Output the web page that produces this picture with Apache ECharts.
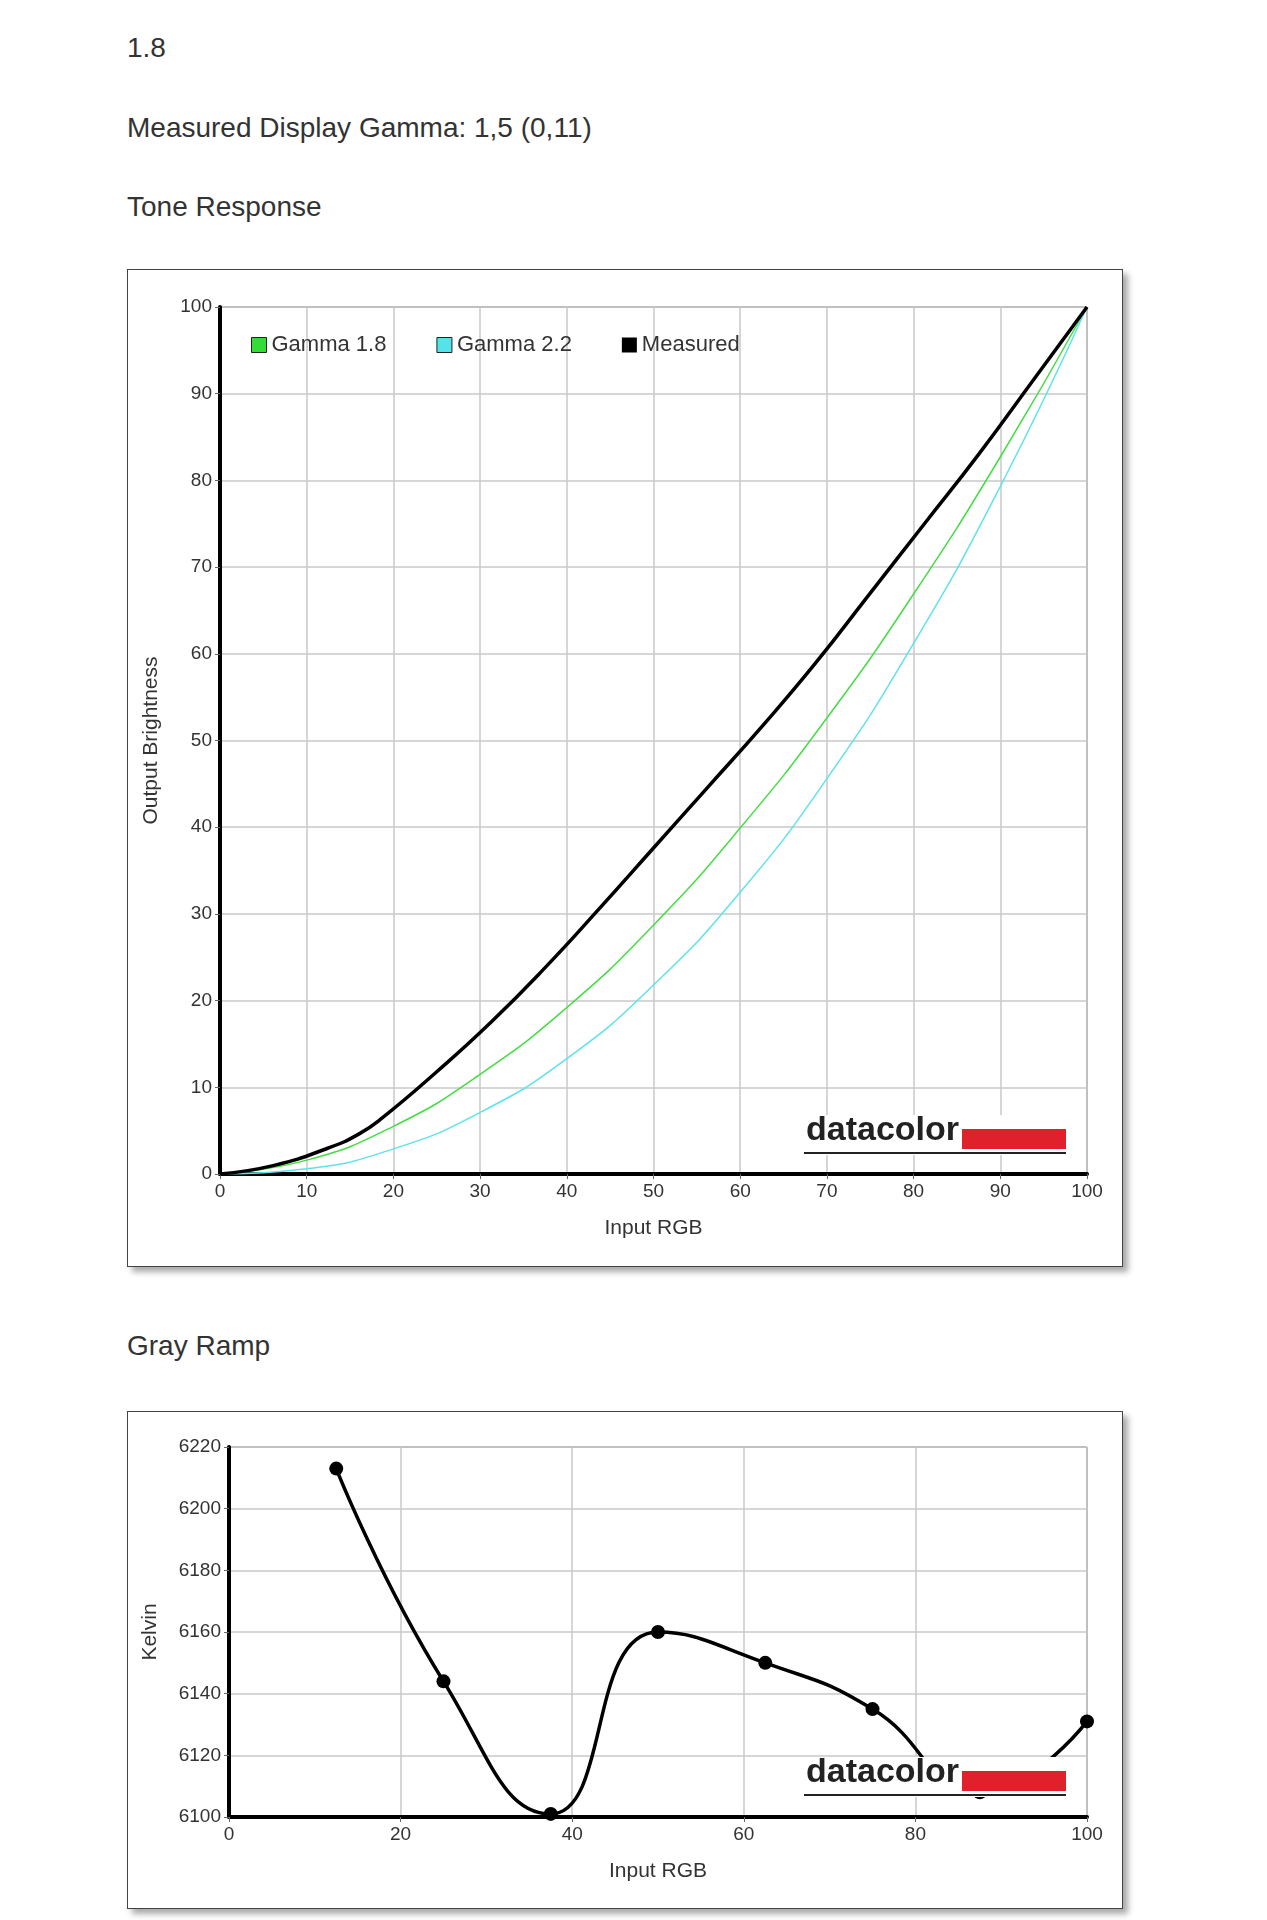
<!DOCTYPE html>
<html>
<head>
<meta charset="utf-8">
<script src="https://cdn.jsdelivr.net/npm/echarts@6/dist/echarts.min.js"></script>
<style>
	body { margin: 0; background: #fff; font-family: "Liberation Sans", Arial, sans-serif; color: #333; }
	.txt { position: absolute; left: 127px; font-size: 28px; }
	.box { position: absolute; left: 127px; width: 994px; border: 1px solid #444; box-shadow: 5px 5px 6px #aaa; background: #fff; }
</style>
</head>
<body>
<div class="txt" style="top:32px">1.8</div>
<div class="txt" style="top:112px">Measured Display Gamma: 1,5 (0,11)</div>
<div class="txt" style="top:191px">Tone Response</div>
<div class="box" id="tone" style="top:269px;height:996px"></div>
<div class="txt" style="top:1330px">Gray Ramp</div>
<div class="box" id="ramp" style="top:1411px;height:496px"></div>
<script>
// tone response, input RGB 0..100
var toneX = [0, 10, 20, 30, 40, 50, 60, 70, 80, 90, 100];
var gamma18 = [0, 1.6, 5.5, 11.5, 19.2, 28.7, 39.9, 52.6, 66.9, 82.7, 100];
var gamma22 = [0, 0.6, 2.9, 7.1, 13.3, 21.8, 32.5, 45.6, 61.2, 79.3, 100];
var measuredX = [0, 6.25, 12.5, 16, 18.75, 25, 31.25, 37.5, 43.75, 50, 56.25, 62.5, 68.75, 75, 81.25, 87.5, 93.75, 100];
var measuredY = [0, 1, 3, 4.6, 6.5, 11.8, 17.5, 23.8, 30.6, 37.6, 44.6, 51.6, 59, 67, 75, 83, 91.5, 100];

// gray ramp
var rampX = [12.5, 25, 37.5, 50, 62.5, 75, 87.5, 100];
var rampK = [6213, 6144, 6101, 6160, 6150, 6135, 6108, 6131];

function pairs(xs, ys) {
	var out = [];
	for (var i = 0; i < xs.length; i++) out.push([xs[i], ys[i]]);
	return out;
}

var txtStyle = { color: '#333', fontSize: 19, fontFamily: 'Liberation Sans', formatter: function(v) { return String(v); } };

function logo() {
	return [
		{ type: 'rect', right: 36, bottom: 111, shape: { width: 284, height: 40 }, style: { fill: '#fff' }, z: 99 },
		{ type: 'text', right: 163, bottom: 118, style: { text: 'datacolor', font: 'bold 34px "Liberation Sans"', fill: '#222' }, z: 100 },
		{ type: 'rect', right: 56, bottom: 117, shape: { width: 104, height: 20 }, style: { fill: '#e0202a' }, z: 100 },
		{ type: 'rect', right: 56, bottom: 112, shape: { width: 262, height: 2 }, style: { fill: '#222' }, z: 100 }
	];
}

function axisBase(name, gap, min, max, interval) {
	return {
		type: 'value', min: min, max: max, interval: interval,
		name: name, nameLocation: 'middle', nameGap: gap,
		nameTextStyle: { color: '#333', fontSize: 21, fontFamily: 'Liberation Sans' },
		axisLine: { show: true, onZero: false, lineStyle: { color: '#000', width: 4 } },
		axisTick: { show: true, length: 5, lineStyle: { color: '#666' } },
		axisLabel: txtStyle,
		splitLine: { show: true, lineStyle: { color: '#c8c8c8', width: 1.5 } }
	};
}

var tone = echarts.init(document.getElementById('tone'));
tone.setOption({
	animation: false,
	grid: { left: 92, right: 35, top: 37, bottom: 92, show: true, borderColor: '#555', borderWidth: 1 },
	legend: {
		left: 118, top: 59, itemGap: 50, itemWidth: 15, itemHeight: 15, icon: 'rect',
		textStyle: { color: '#333', fontSize: 22, fontFamily: 'Liberation Sans' },
		data: [
			{ name: 'Gamma 1.8', itemStyle: { color: '#33dd33', borderColor: '#222', borderWidth: 1 } },
			{ name: 'Gamma 2.2', itemStyle: { color: '#55e3ea', borderColor: '#222', borderWidth: 1 } },
			{ name: 'Measured', itemStyle: { color: '#000' } }
		]
	},
	xAxis: axisBase('Input RGB', 44, 0, 100, 10),
	yAxis: axisBase('Output Brightness', 58, 0, 100, 10),
	graphic: logo(),
	series: [
		{ name: 'Gamma 1.8', type: 'line', smooth: true, showSymbol: false, data: pairs(toneX, gamma18), lineStyle: { color: '#44dd44', width: 1.5 }, itemStyle: { color: '#33dd33' } },
		{ name: 'Gamma 2.2', type: 'line', smooth: true, showSymbol: false, data: pairs(toneX, gamma22), lineStyle: { color: '#5ee3ea', width: 1.5 }, itemStyle: { color: '#55e3ea' } },
		{ name: 'Measured', type: 'line', smooth: 0.5, showSymbol: false, data: pairs(measuredX, measuredY), lineStyle: { color: '#000', width: 3.5 }, itemStyle: { color: '#000' } }
	]
});

var ramp = echarts.init(document.getElementById('ramp'));
ramp.setOption({
	animation: false,
	grid: { left: 101, right: 35, top: 35, bottom: 91, show: true, borderColor: '#555', borderWidth: 1 },
	xAxis: axisBase('Input RGB', 44, 0, 100, 20),
	yAxis: axisBase('Kelvin', 68, 6100, 6220, 20),
	graphic: logo(),
	series: [
		{ name: 'Kelvin', type: 'line', smooth: 0.5, data: pairs(rampX, rampK), symbol: 'circle', symbolSize: 14, lineStyle: { color: '#000', width: 3.5 }, itemStyle: { color: '#000' }, z: 3 }
	]
});
</script>
</body>
</html>
